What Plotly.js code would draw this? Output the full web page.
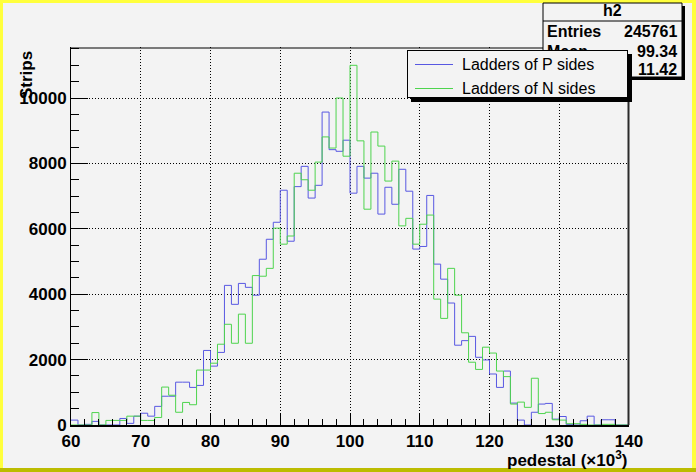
<!DOCTYPE html>
<html><head><meta charset="utf-8">
<script src="https://cdn.plot.ly/plotly-3.0.1.min.js"></script>
<style>html,body{margin:0;padding:0;background:#f3f3f3}#chart{width:696px;height:472px}</style>
</head><body><div id="chart"></div>
<script>
// ---- data (80 bins of width 1, from 60 to 140, x in units of 10^3) ----
const binLow = 60;
const binWidth = 1;
const pSides = [150,0,20,110,0,0,0,200,50,270,
  360,270,570,880,880,1310,1310,1150,1210,2280,
  1800,2220,4270,3690,4330,4210,3970,5070,5680,6200,
  7180,5620,7290,7910,6940,7330,9570,8420,8370,8710,
  7090,7910,7550,7700,6450,7270,6750,7820,7150,5380,
  5460,7020,4920,4460,3730,2440,2580,2710,2070,1990,
  1560,1150,1650,670,150,0,390,640,660,180,
  260,10,0,130,270,0,160,160,0,0];
const nSides = [0,0,0,380,0,140,140,140,270,270,
  140,140,230,1160,910,390,690,620,1680,1680,
  1890,2470,3080,2500,3390,2500,4570,4550,4790,6020,
  5530,5780,7700,7500,7180,8040,8810,8470,10000,8220,
  11000,8690,6600,8960,8530,7460,8070,6090,6320,5530,
  6140,6420,3850,3260,4790,3970,2820,1920,1700,2380,
  2200,1650,1480,640,700,540,1430,350,390,160,
  150,40,40,20,0,0,20,20,0,0];
const seriesNames = ['Ladders of P sides', 'Ladders of N sides'];
const seriesColors = ['#5858e2', '#4ed44e'];
const xTickVals = [60,70,80,90,100,110,120,130,140];
const yTickVals = [0,2000,4000,6000,8000,10000];
const statsTitle = 'h2';
const statsLabels = ['Entries', 'Mean', 'RMS'];
const statsValues = ['245761', '99.34', '11.42'];

// ---- helpers ----
function stepXY(vals){
  const xs = [], ys = [];
  vals.forEach((v,i)=>{ xs.push(binLow + i*binWidth); ys.push(v); });
  xs.push(binLow + vals.length*binWidth); ys.push(vals[vals.length-1]);
  return {xs, ys};
}
const ML=71, MR=67, MT=47, MB=47, FW=696, FH=472;
const PW=FW-ML-MR, PH=FH-MT-MB;
const X = px => (px-ML)/PW;
const Y = py => (FH-MB-py)/PH;

const traces = [pSides, nSides].map((vals,k)=>{
  const s = stepXY(vals);
  return {type:'scatter', mode:'lines', x:s.xs, y:s.ys, name:seriesNames[k],
    line:{shape:'hv', color:seriesColors[k], width:1}, hoverinfo:'skip', showlegend:false};
});

const FONT = 'Liberation Sans, Arial, Helvetica, sans-serif';
const bg = '#f3f3f3';
function rect(x0,y0,x1,y1,fill,line,lw){
  return {type:'rect', xref:'paper', yref:'paper', x0:X(x0), x1:X(x1), y0:Y(y1), y1:Y(y0),
    fillcolor:fill, line:{color:line||fill, width:lw===undefined?0:lw}, layer:'above'};
}
function hline(x0,x1,y,color,w){
  return {type:'line', xref:'paper', yref:'paper', x0:X(x0), x1:X(x1), y0:Y(y), y1:Y(y), line:{color:color, width:w}, layer:'above'};
}
function vline(x,y0,y1,color,w){
  return {type:'line', xref:'paper', yref:'paper', x0:X(x), x1:X(x), y0:Y(y0), y1:Y(y1), line:{color:color, width:w}, layer:'above'};
}
const shapes = [
  // canvas border
  rect(0,0,3,472,'#ffff3c'),
  rect(0,0,696,3,'#ffff3c'),
  rect(692,0,696,472,'#ffff3c'),
  rect(0,468,696,472,'#bcbc00'),
  // frame top & right
  hline(71,629,48,'#000',1),
  vline(628.5,48,425,'#2a2a2a',2),
  // stats box
  rect(546,6,685,80,'#000'),
  rect(543,3,682,77,bg,'#000',1),
  hline(543,682,21,'#000',1)
];
function ann(text,px,py,xa,opts){
  return Object.assign({text:text, xref:'paper', yref:'paper', x:X(px), y:Y(py), xanchor:xa, yanchor:'middle',
    showarrow:false, font:{family:FONT, size:16, color:'#000', weight:'bold'}}, opts||{});
}
function boxAnn(px,py,w,h,fill,border){
  return {text:' ', xref:'paper', yref:'paper', x:X(px), y:Y(py), xanchor:'left', yanchor:'top',
    showarrow:false, width:w, height:h, bgcolor:fill, bordercolor:border||fill, borderwidth:border?1:0,
    borderpad:0, font:{size:1, color:fill}};
}
const statsRows = [32, 51, 70];
const annotations = [
  ann(statsTitle,612,11,'center'),
  ann(statsLabels[0],545,statsRows[0],'left'),
  ann(statsLabels[1],545,statsRows[1],'left'),
  ann(statsValues[0],679,statsRows[0],'right'),
  ann(statsValues[1],679,statsRows[1],'right'),
  ann(statsValues[2],679,statsRows[2],'right'),
  ann('Strips',26,75,'center',{textangle:-90, font:{family:FONT,size:17,color:'#000',weight:'bold'}}),
  ann('pedestal (×10<sup>3</sup>)',630,459,'right',{font:{family:FONT,size:17,color:'#000',weight:'bold'}}),
  // legend: shadow, box, samples, labels
  boxAnn(411,54,221,48,'#000'),
  boxAnn(407,50,219,46,bg,'#000'),
  boxAnn(415,64,38,1,seriesColors[0]),
  boxAnn(415,88,38,1,seriesColors[1]),
  ann(seriesNames[0],460,64,'left',{font:{family:FONT,size:16,color:'#000'}}),
  ann(seriesNames[1],460,88,'left',{font:{family:FONT,size:16,color:'#000'}})
];

const axisCommon = {
  showline:true, linecolor:'#000', ticks:'inside', tickcolor:'#000', tickwidth:1,
  showgrid:true, gridcolor:'#000', gridwidth:1, griddash:'1px,2px', zeroline:false,
  tickformat:'d', exponentformat:'none',
  tickfont:{family:FONT, size:17, color:'#000', weight:'bold'}, fixedrange:true
};
const layout = {
  width:FW, height:FH, margin:{l:ML, r:MR, t:MT, b:MB, pad:0},
  paper_bgcolor:bg, plot_bgcolor:bg, showlegend:false,
  xaxis:Object.assign({}, axisCommon, {range:[60,140], tickmode:'array', tickvals:xTickVals, ticklen:12,
    linewidth:2, minor:{dtick:2, ticklen:6, ticks:'inside', tickcolor:'#000', showgrid:false}}),
  yaxis:Object.assign({}, axisCommon, {range:[0,11560], tickmode:'array', tickvals:yTickVals, ticklen:17,
    linewidth:1, minor:{dtick:500, ticklen:8, ticks:'inside', tickcolor:'#000', showgrid:false}}),
  shapes:shapes, annotations:annotations, hovermode:false
};
Plotly.newPlot('chart', traces, layout, {staticPlot:true, displayModeBar:false});
</script></body></html>
